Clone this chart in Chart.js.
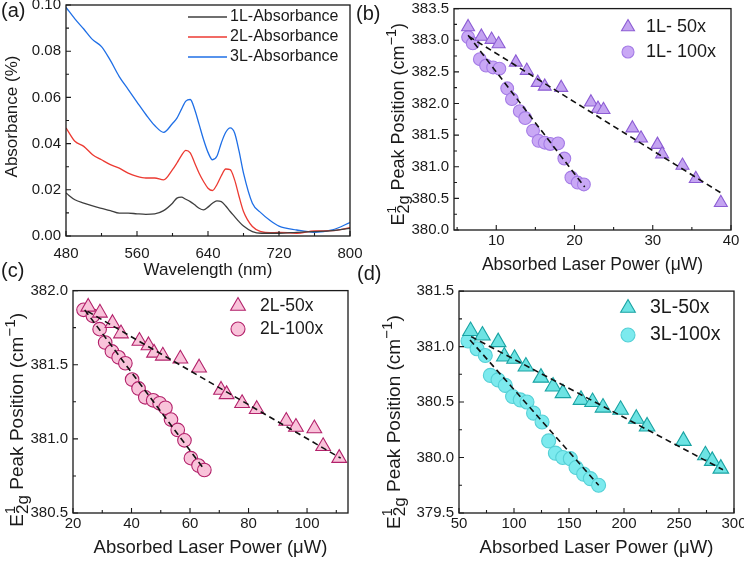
<!DOCTYPE html>
<html>
<head>
<meta charset="utf-8">
<script src="https://cdn.jsdelivr.net/npm/chart.js@4.4.1/dist/chart.umd.min.js"></script>
<style>
  html, body { margin: 0; padding: 0; background: #fff; overflow: hidden; }
  body { width: 744px; height: 562px; position: relative; font-family: 'Liberation Sans', Arial, sans-serif; }
  canvas { position: absolute; }
  .tag { position: absolute; font-size: 20px; line-height: 1; color: #1a1a1a; }
</style>
</head>
<body>
<canvas id="chartA" width="372" height="281" style="left:0;top:0"></canvas>
<canvas id="chartB" width="372" height="281" style="left:372px;top:0"></canvas>
<canvas id="chartC" width="372" height="281" style="left:0;top:281px"></canvas>
<canvas id="chartD" width="388" height="281" style="left:372px;top:281px"></canvas>
<div class="tag" style="left:1px;top:0px">(a)</div>
<div class="tag" style="left:356px;top:3px">(b)</div>
<div class="tag" style="left:1px;top:260px">(c)</div>
<div class="tag" style="left:357px;top:263px">(d)</div>
<script>
// (a) absorbance spectra
const wavelength = [480,490,500,510,520,530,540,550,560,570,580,590,600,605,610,615,620,625,630,635,640,645,650,655,660,665,670,675,680,690,700,710,720,740,760,780,800];
const abs1L = [0.0186,0.0157,0.0142,0.0130,0.0120,0.0110,0.0099,0.0099,0.0096,0.0094,0.0096,0.0110,0.0142,0.0164,0.0168,0.0159,0.0149,0.0135,0.0120,0.0113,0.0125,0.0142,0.0152,0.0149,0.0130,0.0106,0.0084,0.0062,0.0043,0.0019,0.0012,0.0012,0.0012,0.0016,0.0019,0.0023,0.0033];
const abs2L = [0.0468,0.0410,0.0388,0.0352,0.0330,0.0309,0.0294,0.0272,0.0258,0.0251,0.0251,0.0243,0.0287,0.0316,0.0348,0.0371,0.0360,0.0316,0.0272,0.0236,0.0207,0.0197,0.0222,0.0261,0.0290,0.0287,0.0243,0.0171,0.0106,0.0041,0.0019,0.0014,0.0016,0.0012,0.0022,0.0023,0.0036];
const abs3L = [0.0990,0.0940,0.0896,0.0850,0.0820,0.0760,0.0690,0.0635,0.0580,0.0526,0.0478,0.0449,0.0487,0.0510,0.0548,0.0584,0.0591,0.0548,0.0483,0.0417,0.0362,0.0330,0.0345,0.0403,0.0449,0.0468,0.0446,0.0367,0.0272,0.0142,0.0099,0.0067,0.0043,0.0026,0.0016,0.0026,0.0058];

// (b) 1L peak position vs absorbed power
const p1L50 = [6.4,8.1,9.4,10.3,12.5,13.9,15.3,16.2,18.3,22.1,23.0,23.7,27.4,28.5,30.6,31.2,33.8,35.5,38.7];
const e1L50 = [383.21,383.06,383.01,382.94,382.65,382.52,382.33,382.27,382.25,382.02,381.92,381.90,381.61,381.45,381.35,381.20,381.02,380.81,380.43];
const p1L100 = [6.4,7.0,7.9,8.7,9.6,10.4,11.4,12.0,13.0,13.7,14.7,15.4,16.2,16.9,17.9,18.7,19.6,20.4,21.2];
const e1L100 = [383.05,382.95,382.70,382.60,382.57,382.55,382.24,382.07,381.88,381.77,381.57,381.41,381.38,381.36,381.37,381.13,380.83,380.75,380.72];
const fit1L50 = [[6.5, 383.06], [38.8, 380.58]];
const fit1L100 = [[6.4, 383.08], [21.3, 380.68]];

// (c) 2L
const p2L50 = [25.2,29.2,33.5,36.4,42.7,45.8,47.7,50.7,56.7,63.1,70.6,72.5,77.8,82.8,92.9,96.2,102.5,105.5,111.0];
const e2L50 = [381.89,381.85,381.78,381.71,381.66,381.63,381.58,381.56,381.54,381.48,381.33,381.30,381.24,381.20,381.12,381.08,381.07,380.95,380.87];
const p2L100 = [23.6,26.8,29.1,31.0,33.3,35.6,37.9,40.2,42.4,44.7,47.4,49.6,51.6,53.5,55.8,58.1,60.3,62.9,64.9];
const e2L100 = [381.87,381.83,381.74,381.65,381.59,381.55,381.51,381.40,381.34,381.28,381.26,381.24,381.21,381.13,381.06,380.99,380.87,380.82,380.79];
const fit2L50 = [[25, 381.86], [111.5, 380.87]];
const fit2L100 = [[24, 381.87], [65, 380.79]];

// (d) 3L
const p3L50 = [60.5,71.3,85.6,91.2,100.5,110.8,124.5,135.5,144.5,160.9,171.4,180.9,196.9,211.2,221.0,254.0,274.0,280.2,288.0];
const e3L50 = [381.14,381.10,381.04,380.91,380.89,380.82,380.72,380.64,380.58,380.52,380.50,380.45,380.43,380.35,380.28,380.15,380.02,379.97,379.90];
const p3L100 = [58.2,66.4,73.9,78.5,85.5,92.1,98.7,105.7,111.8,117.8,125.5,131.5,137.6,144.3,151.2,156.4,163.3,169.4,176.9];
const e3L100 = [381.05,380.98,380.92,380.74,380.70,380.65,380.55,380.52,380.50,380.40,380.32,380.15,380.04,380.00,379.99,379.91,379.85,379.81,379.75];
const fit3L50 = [[61, 381.09], [290, 379.89]];
const fit3L100 = [[60, 381.06], [177, 379.75]];

const fuente = "'Liberation Sans', Arial, sans-serif";
const tinta = '#1a1a1a';
const yTitleParts = [
  { t: 'E' }, { t: '1', sup: true, stack: true, s: 0.75 }, { t: '2g', sub: true, s: 0.9 },
  { t: ' Peak Position (cm' }, { t: '\u22121', sup: true, s: 0.8 }, { t: ')' },
];

const pares = (xs, ys) => xs.map((x, i) => ({ x: x, y: ys[i] }));

// inward ticks + box frame, like the original plots
const marcoPlugin = {
  id: 'marco',
  afterDatasetsDraw(chart, args, opts) {
    const { ctx, chartArea: a, scales: { x, y } } = chart;
    const pasos = function (scale, menor) {
      let out = [];
      let mayor = scale.options.ticks.stepSize;
      let n0 = Math.ceil(scale.min / menor - 1e-6), n1 = Math.floor(scale.max / menor + 1e-6);
      for (let n = n0; n <= n1; n++) {
        let r = (n * menor) / mayor;
        out.push({ v: n * menor, big: Math.abs(r - Math.round(r)) < 1e-6 });
      }
      return out;
    };
    ctx.save();
    ctx.strokeStyle = tinta;
    ctx.lineWidth = 1.3;
    ctx.strokeRect(a.left, a.top, a.width, a.height);
    ctx.lineWidth = 1.1;
    ctx.beginPath();
    for (let { v, big } of pasos(x, opts.mx)) {
      let px = x.getPixelForValue(v);
      ctx.moveTo(px, a.bottom);
      ctx.lineTo(px, a.bottom - (big ? 5 : 3));
    }
    for (let { v, big } of pasos(y, opts.my)) {
      let py = y.getPixelForValue(v);
      ctx.moveTo(a.left, py);
      ctx.lineTo(a.left + (big ? 5 : 3), py);
    }
    ctx.stroke();
    ctx.restore();
  },
};

// rotated y title with super/subscripts
const tituloYPlugin = {
  id: 'tituloY',
  afterDraw(chart, args, opts) {
    const { ctx, chartArea: a } = chart;
    const size = opts.size;
    const medir = function (p) {
      ctx.font = `${size * (p.s || 1)}px ${fuente}`;
      return ctx.measureText(p.t).width;
    };
    ctx.save();
    ctx.translate(opts.x, (a.top + a.bottom) / 2 + (opts.dy || 0));
    ctx.rotate(-Math.PI / 2);
    ctx.fillStyle = tinta;
    ctx.textBaseline = 'middle';
    let total = 0;
    for (let p of opts.parts) if (!p.stack) total += medir(p);
    let cx = -total / 2;
    for (let p of opts.parts) {
      let w = medir(p);
      let dy = p.sup ? -size * 0.38 : p.sub ? size * 0.3 : 0;
      ctx.fillText(p.t, cx, dy);
      if (!p.stack) cx += w;
    }
    ctx.restore();
  },
};

const marcador = function (ctx, estilo, r, x, y) {
  ctx.beginPath();
  if (estilo === 'triangle') {
    for (let k = 0; k < 3; k++) {
      let ang = (k * 2 * Math.PI) / 3;
      let fn = k === 0 ? 'moveTo' : 'lineTo';
      ctx[fn](x + Math.sin(ang) * r, y - Math.cos(ang) * r);
    }
    ctx.closePath();
  } else {
    ctx.arc(x, y, r, 0, 2 * Math.PI);
  }
  ctx.fill();
  ctx.stroke();
};

const leyendaPlugin = {
  id: 'leyenda',
  afterDraw(chart, args, opts) {
    const { ctx } = chart;
    let items = chart.data.datasets.filter((d) => !d.fit);
    ctx.save();
    ctx.font = `${opts.size}px ${fuente}`;
    ctx.textBaseline = 'middle';
    items.forEach(function (d, i) {
      let yy = opts.y + i * opts.gap;
      ctx.strokeStyle = d.borderColor;
      ctx.lineWidth = d.borderWidth;
      if (opts.line) {
        ctx.beginPath();
        ctx.moveTo(opts.x, yy);
        ctx.lineTo(opts.x + opts.line, yy);
        ctx.stroke();
      } else {
        ctx.fillStyle = d.backgroundColor;
        marcador(ctx, d.pointStyle, d.pointStyle === 'triangle' ? opts.rt : opts.rc, opts.x, yy);
      }
      ctx.fillStyle = tinta;
      ctx.fillText(d.label, opts.tx, yy);
    });
    ctx.restore();
  },
};

const ejes = function (c) {
  return {
    x: {
      type: 'linear', min: c.xmin, max: c.xmax,
      grid: { display: false, drawTicks: false }, border: { display: false },
      ticks: { stepSize: c.xstep, includeBounds: false, autoSkip: false, maxRotation: 0, padding: c.xpad, color: tinta, font: { family: fuente, size: c.tick } },
      title: { display: true, text: c.xtitle, color: tinta, font: { family: fuente, size: c.tsize }, padding: { top: 0, bottom: c.tpad } },
      afterFit: function (s) { s.height = c.xh; s.paddingLeft = 0; s.paddingRight = 0; },
    },
    y: {
      type: 'linear', min: c.ymin, max: c.ymax,
      grid: { display: false, drawTicks: false }, border: { display: false },
      ticks: { stepSize: c.ystep, includeBounds: false, autoSkip: false, padding: 5, color: tinta, font: { family: fuente, size: c.tick }, callback: (v) => v.toFixed(c.dec) },
      afterFit: function (s) { s.width = c.yw; s.paddingTop = 0; s.paddingBottom = 0; },
    },
  };
};

const crearGrafico = function (id, datasets, c) {
  return new Chart(document.getElementById(id).getContext('2d'), {
    type: 'scatter',
    data: { datasets: datasets },
    options: {
      responsive: false,
      animation: false,
      layout: { padding: { left: 0, top: c.top, right: c.right, bottom: 0 } },
      scales: ejes(c),
      plugins: {
        legend: { display: false },
        tooltip: { enabled: false },
        marco: { mx: c.mx, my: c.my },
        tituloY: c.titulo,
        leyenda: c.leyenda,
      },
    },
    plugins: [marcoPlugin, tituloYPlugin, leyendaPlugin],
  });
};

const linea = (label, ys, color) => ({
  type: 'line', label: label, data: pares(wavelength, ys), borderColor: color, borderWidth: 1.3,
  pointRadius: 0, showLine: true, fill: false, cubicInterpolationMode: 'monotone',
});
const ajuste = (seg) => ({
  type: 'line', fit: true, data: seg.map(([x, y]) => ({ x, y })), borderColor: '#111', borderWidth: 1.6,
  borderDash: [6, 4], pointRadius: 0, showLine: true, fill: false,
});
const serie = (label, xs, ys, estilo, r, fill, borde) => ({
  label: label, data: pares(xs, ys), pointStyle: estilo, pointRadius: r, backgroundColor: fill,
  borderColor: borde, borderWidth: 1.1, pointBackgroundColor: fill, pointBorderColor: borde, pointBorderWidth: 1.1,
});

crearGrafico('chartA', [
  linea('1L-Absorbance', abs1L, '#3f3f3f'),
  linea('2L-Absorbance', abs2L, '#ec3a32'),
  linea('3L-Absorbance', abs3L, '#1f6fe6'),
], {
  xmin: 480, xmax: 800, xstep: 80, ymin: 0, ymax: 0.1, ystep: 0.02, dec: 2, mx: 40, my: 0.01,
  tick: 15, xpad: 9, xtitle: 'Wavelength (nm)', tsize: 17, tpad: 0, xh: 45, yw: 66, top: 5, right: 22,
  titulo: { parts: [{ t: 'Absorbance (%)' }], x: 12, size: 17, dy: -4 },
  leyenda: { line: 39, x: 188, tx: 230, y: 17, gap: 20, size: 16 },
});

crearGrafico('chartB', [
  ajuste(fit1L50), ajuste(fit1L100),
  serie('1L- 50x', p1L50, e1L50, 'triangle', 7.5, '#c4a4f1', '#8c5cd4'),
  serie('1L- 100x', p1L100, e1L100, 'circle', 6.4, '#c9a8f5', '#a57ce6'),
], {
  xmin: 4.6, xmax: 40, xstep: 10, ymin: 380, ymax: 383.5, ystep: 0.5, dec: 1, mx: 5, my: 0.25,
  tick: 15, xpad: 2, xtitle: 'Absorbed Laser Power (\u03bcW)', tsize: 17.5, tpad: 5, xh: 51, yw: 82, top: 7, right: 13,
  titulo: { parts: yTitleParts, x: 27, size: 18, dy: 5 },
  leyenda: { x: 256, tx: 274, y: 27, gap: 25, size: 18, rt: 7.5, rc: 6 },
});

crearGrafico('chartC', [
  ajuste(fit2L50), ajuste(fit2L100),
  serie('2L-50x', p2L50, e2L50, 'triangle', 8.5, '#f9c3da', '#b3226b'),
  serie('2L-100x', p2L100, e2L100, 'circle', 6.8, '#f9c3da', '#b3226b'),
], {
  xmin: 20, xmax: 114, xstep: 20, ymin: 380.5, ymax: 382, ystep: 0.5, dec: 1, mx: 10, my: 0.25,
  tick: 15, xpad: 2, xtitle: 'Absorbed Laser Power (\u03bcW)', tsize: 18.5, tpad: 3, xh: 49, yw: 73, top: 7, right: 24,
  titulo: { parts: yTitleParts, x: 18, size: 19, dy: 18 },
  leyenda: { x: 238, tx: 260, y: 25, gap: 23, size: 17.5, rt: 8.5, rc: 7 },
});

crearGrafico('chartD', [
  ajuste(fit3L50), ajuste(fit3L100),
  serie('3L-50x', p3L50, e3L50, 'triangle', 9, '#6de3e3', '#19a3a3'),
  serie('3L-100x', p3L100, e3L100, 'circle', 7, '#7ceaee', '#55d0d6'),
], {
  xmin: 50, xmax: 300, xstep: 50, ymin: 379.5, ymax: 381.5, ystep: 0.5, dec: 1, mx: 25, my: 0.25,
  tick: 15, xpad: 2, xtitle: 'Absorbed Laser Power (\u03bcW)', tsize: 18.5, tpad: 3, xh: 49, yw: 87, top: 7, right: 26,
  titulo: { parts: yTitleParts, x: 23, size: 19, dy: 20 },
  leyenda: { x: 256, tx: 278, y: 27, gap: 27, size: 19.5, rt: 8.5, rc: 7 },
});
</script>
</body>
</html>
